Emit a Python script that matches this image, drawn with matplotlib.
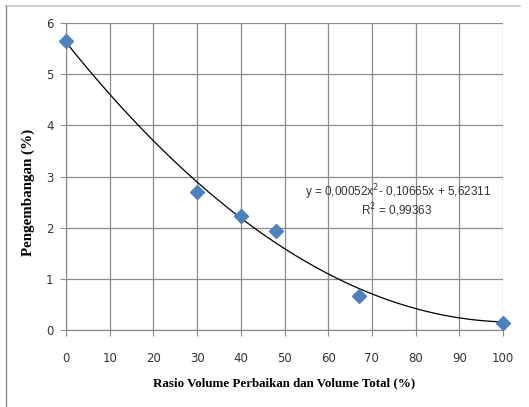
import numpy as np
import matplotlib
matplotlib.use("Agg")
import matplotlib.pyplot as plt
from matplotlib.lines import Line2D

# Data
ratio = [0, 30, 40, 48, 67, 100]
swell = [5.65, 2.69, 2.22, 1.94, 0.66, 0.13]
poly_coef = [0.00052, -0.10665, 5.62311]
eq_text = "y = 0,00052x$^2$- 0,10665x + 5,62311"
r2_text = "R$^2$ = 0,99363"
x_ticks = [0, 10, 20, 30, 40, 50, 60, 70, 80, 90, 100]
y_ticks = [0, 1, 2, 3, 4, 5, 6]
x_label = "Rasio Volume Perbaikan dan Volume Total (%)"
y_label = "Pengembangan (%)"

W, H = 529, 407
fig = plt.figure(figsize=(W / 100, H / 100), dpi=100)
fig.patch.set_facecolor("white")

# outer frame lines (top and left)
fig.add_artist(Line2D([6 / W, 520 / W], [1 - 6 / H, 1 - 6 / H], color="#c8c8c8", lw=1.2))
fig.add_artist(Line2D([6 / W, 6 / W], [1 - 6 / H, 0], color="#8a8a8a", lw=1.0))

ax = fig.add_axes([66 / W, 1 - 330 / H, (503 - 66) / W, (330 - 23) / H])
ax.set_xlim(0, 100)
ax.set_ylim(0, 6)
ax.set_xticks(x_ticks)
ax.set_yticks(y_ticks)
ax.grid(True, color="#8c8c8c", lw=0.9)
ax.set_axisbelow(True)
for s in ["top", "right"]:
    ax.spines[s].set_visible(False)
for s in ["left", "bottom"]:
    ax.spines[s].set_color("#8c8c8c")
    ax.spines[s].set_linewidth(0.9)
ax.tick_params(axis="both", colors="#8c8c8c", labelcolor="#333333", labelsize=8.5, length=4)
ax.tick_params(axis="x", pad=12)
ax.tick_params(axis="y", pad=5)
for lab in ax.get_xticklabels() + ax.get_yticklabels():
    lab.set_fontfamily("DejaVu Sans")

xs = np.linspace(0, 100, 200)
ax.plot(xs, np.polyval(poly_coef, xs), color="black", lw=0.9, zorder=3)
ax.plot(ratio, swell, linestyle="none", marker="D", markersize=7,
        color="#4F81BD", markeredgecolor="#4F81BD", zorder=4, clip_on=False)

ax.text(76.1, 2.70, eq_text, ha="center", va="center", fontsize=8.5,
        color="#333333", family="Liberation Sans")
ax.text(75.8, 2.35, r2_text, ha="center", va="center", fontsize=8.5,
        color="#333333", family="Liberation Sans")

fig.text(284 / W, 1 - 383 / H, x_label, ha="center", va="center",
         fontsize=9.4, fontweight="bold", family="Liberation Serif")
fig.text(28 / W, 1 - 192 / H, y_label, ha="center", va="center", rotation=90,
         fontsize=10.8, fontweight="bold", family="Liberation Serif")

fig.savefig("out.png", dpi=100)
